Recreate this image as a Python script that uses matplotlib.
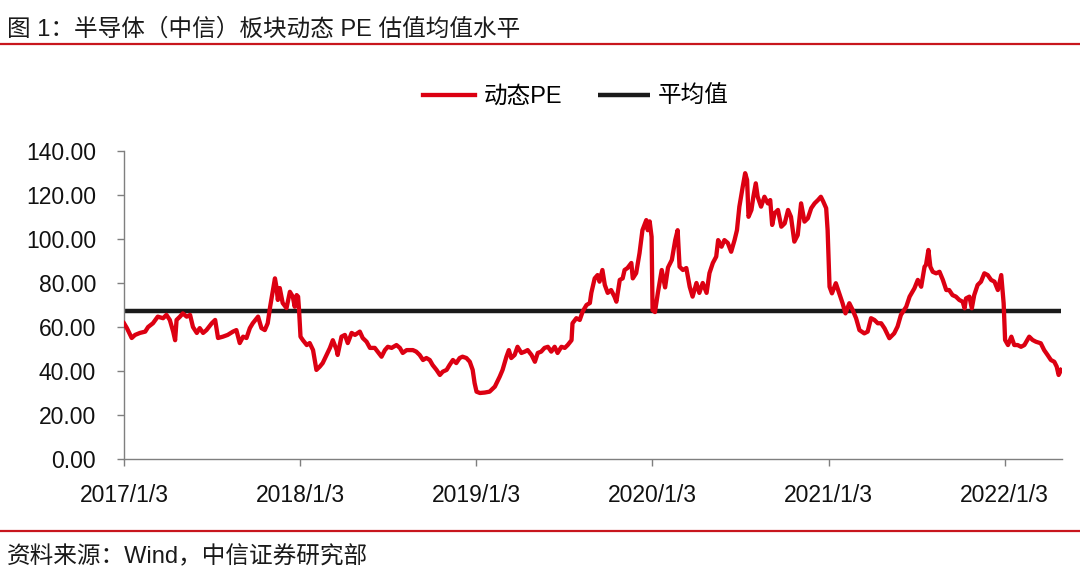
import pandas as pd
import matplotlib
matplotlib.use('Agg')
import matplotlib.pyplot as plt
from matplotlib.lines import Line2D

plt.rcParams['font.family'] = ['Liberation Sans', 'Noto Sans CJK SC']

# days since 2017/1/3 and PE
day_offsets = [
    0, 6, 16, 23, 33, 44, 50, 60, 70, 81, 88, 95, 102, 106, 109, 116, 122, 130,
    137, 143, 151, 157, 164, 171, 182, 189, 195, 205, 215, 226, 233, 240, 247,
    254, 261, 267, 278, 285, 292, 298, 303, 309, 313, 316, 319, 323, 329, 337,
    344, 350, 354, 358, 361, 363, 366, 371, 379, 385, 392, 399, 406, 412, 420,
    427, 433, 441, 443, 451, 458, 464, 472, 479, 489, 495, 503, 510, 520, 526,
    534, 541, 547, 555, 565, 572, 578, 586, 593, 599, 606, 613, 620, 627, 634,
    640, 648, 655, 661, 669, 675, 682, 689, 696, 702, 710, 717, 723, 727, 731,
    738, 748, 758, 769, 779, 785, 793, 798, 803, 810, 816, 824, 831, 837, 845,
    852, 858, 865, 872, 879, 886, 893, 899, 907, 914, 920, 928, 930, 938, 945,
    951, 959, 966, 969, 976, 982, 986, 992, 997, 1003, 1010, 1017, 1021, 1028,
    1034, 1038, 1044, 1052, 1055, 1062, 1069, 1075, 1083, 1086, 1090, 1094,
    1096, 1101, 1107, 1115, 1122, 1128, 1136, 1143, 1148, 1152, 1159, 1166,
    1173, 1179, 1187, 1193, 1200, 1208, 1214, 1221, 1228, 1232, 1239, 1245,
    1252, 1259, 1266, 1271, 1276, 1283, 1288, 1292, 1295, 1301, 1305, 1310,
    1314, 1321, 1328, 1335, 1340, 1344, 1349, 1356, 1363, 1370, 1377, 1383,
    1390, 1397, 1404, 1411, 1418, 1425, 1432, 1439, 1445, 1450, 1456, 1459,
    1463, 1468, 1476, 1483, 1490, 1496, 1504, 1511, 1518, 1525, 1535, 1542,
    1549, 1556, 1563, 1570, 1577, 1587, 1597, 1604, 1611, 1622, 1629, 1639,
    1646, 1653, 1660, 1663, 1668, 1672, 1677, 1684, 1691, 1698, 1705, 1711,
    1718, 1725, 1732, 1739, 1743, 1746, 1753, 1758, 1763, 1770, 1777, 1784,
    1791, 1798, 1805, 1812, 1819, 1824, 1827, 1833, 1840, 1846, 1853, 1860,
    1867, 1877, 1884, 1891, 1901, 1908, 1915, 1922, 1929, 1934, 1938, 1943,
]
pe_values = [
    61.7, 59.5, 55.0, 56.4, 57.3, 57.9, 60.0, 61.7, 64.7, 64.0, 65.5, 63.2, 57.9,
    54.0, 63.2, 64.7, 66.2, 64.7, 65.5, 60.0, 57.3, 59.5, 57.3, 58.6, 61.7, 63.2,
    55.0, 55.6, 56.4, 57.9, 58.6, 52.7, 55.6, 55.0, 59.5, 61.7, 64.7, 59.5, 58.6,
    61.7, 69.2, 76.8, 82.1, 78.3, 72.3, 77.7, 70.9, 68.6, 76.0, 73.8, 69.2, 74.5,
    73.8, 67.7, 55.6, 54.0, 51.8, 52.7, 49.5, 40.5, 42.0, 43.6, 47.3, 50.5, 54.0,
    49.5, 47.3, 55.6, 56.4, 52.7, 57.3, 56.4, 57.9, 55.0, 53.3, 50.5, 50.5, 48.8,
    46.5, 49.5, 51.0, 50.5, 51.8, 50.5, 48.2, 49.5, 49.5, 49.5, 48.8, 47.3, 45.0,
    45.9, 45.0, 42.7, 40.5, 38.2, 39.7, 40.5, 42.7, 45.0, 43.6, 45.9, 46.5, 45.9,
    44.2, 40.5, 34.5, 30.6, 30.0, 30.2, 30.6, 32.9, 37.4, 40.5, 46.5, 49.5, 45.9,
    47.3, 51.0, 48.2, 48.8, 49.5, 47.3, 44.2, 48.2, 48.8, 50.5, 51.0, 48.8, 51.0,
    48.2, 51.0, 50.5, 51.8, 54.0, 61.7, 64.0, 63.2, 67.0, 70.0, 70.9, 75.5, 82.1,
    83.6, 80.6, 85.9, 79.1, 75.5, 76.8, 73.8, 71.5, 81.4, 82.1, 85.9, 86.8, 89.1,
    82.1, 84.5, 93.6, 104.0, 108.6, 104.0, 108.0, 101.0, 67.7, 66.8, 75.5, 85.9,
    78.0, 87.0, 90.5, 99.5, 104.0, 87.4, 85.9, 86.8, 78.3, 73.8, 80.0, 75.5, 80.0,
    75.5, 84.5, 89.1, 92.0, 99.5, 96.5, 99.5, 98.2, 94.2, 99.5, 104.0, 114.7,
    123.8, 129.9, 126.8, 110.1, 113.2, 119.2, 125.3, 119.2, 114.7, 119.2, 116.2,
    117.7, 106.4, 111.7, 113.2, 105.6, 107.1, 113.2, 110.1, 98.8, 101.8, 116.2,
    107.9, 109.4, 114.0, 116.2, 117.7, 119.2, 117.0, 114.0, 104.0, 78.3, 75.3,
    79.9, 75.3, 70.8, 66.2, 70.8, 67.7, 64.0, 58.6, 57.1, 57.9, 64.0, 63.2, 61.7,
    61.7, 59.4, 54.9, 57.1, 60.2, 65.5, 69.2, 73.8, 77.6, 81.4, 78.3, 87.4, 88.2,
    95.0, 87.4, 85.1, 84.4, 85.1, 81.4, 76.8, 76.8, 74.5, 73.8, 72.3, 71.5, 68.5,
    73.0, 73.8, 68.5, 74.5, 79.1, 80.6, 84.4, 83.6, 81.4, 80.6, 76.8, 83.6, 70.8,
    54.1, 51.8, 55.6, 51.8, 51.8, 51.0, 51.8, 55.6, 54.1, 53.3, 52.6, 49.5, 47.3,
    45.0, 44.2, 42.0, 38.2, 40.5,
]
mean_pe = 67.3

tick_dates = ['2017-01-03', '2018-01-03', '2019-01-03', '2020-01-03', '2021-01-03', '2022-01-03']
tick_labels = ['2017/1/3', '2018/1/3', '2019/1/3', '2020/1/3', '2021/1/3', '2022/1/3']
y_ticks = [0, 20, 40, 60, 80, 100, 120, 140]

title = '图 1：半导体（中信）板块动态 PE 估值均值水平'
source = '资料来源：Wind，中信证券研究部'

dates = pd.Timestamp('2017-01-03') + pd.to_timedelta(day_offsets, unit='D')

red = '#DC0012'
fs_tick = 16.5
fs_text = 17

fig = plt.figure(figsize=(10.8, 5.83), dpi=100)
ax = fig.add_axes([124 / 1080, 1 - 459 / 583, (1062 - 124) / 1080, (459 - 151) / 583])

ax.plot(dates, pe_values, color=red, lw=3.1, label='动态PE', solid_joinstyle='round', zorder=3)
ax.hlines(mean_pe, dates[0], dates[-1], color='#1a1a1a', lw=3.2, label='平均值', zorder=2)

ax.set_xlim(dates[0], dates[-1] + pd.Timedelta(days=2))
ax.set_ylim(0, 140)
ax.set_yticks(y_ticks)
ax.set_yticklabels([f'{v:.2f}' for v in y_ticks])
ax.set_xticks(pd.to_datetime(tick_dates))
ax.set_xticklabels(tick_labels)

for s in ['top', 'right']:
    ax.spines[s].set_visible(False)
for s in ['left', 'bottom']:
    ax.spines[s].set_color('#7f7f7f')
    ax.spines[s].set_linewidth(1.0)
ax.tick_params(axis='y', length=5, width=1.0, color='#7f7f7f', pad=15, labelsize=fs_tick, labelcolor='#111111')
ax.tick_params(axis='x', length=5, width=1.0, color='#7f7f7f', pad=13, labelsize=fs_tick, labelcolor='#111111')

fig.legend(loc='center', bbox_to_anchor=(576 / 1080, 1 - 97 / 583), ncol=2, frameon=False,
           fontsize=fs_text, handlelength=2.2, handletextpad=0.35, columnspacing=1.5)

fig.text(7 / 1080, 1 - 30 / 583, title, fontsize=fs_text, va='center', ha='left', color='#1a1a1a')
fig.add_artist(Line2D([0, 1], [1 - 43.5 / 583] * 2, transform=fig.transFigure, color='#C8161D', lw=1.6))
fig.add_artist(Line2D([0, 1], [1 - 531 / 583] * 2, transform=fig.transFigure, color='#C8161D', lw=1.6))
fig.text(7 / 1080, 1 - 557 / 583, source, fontsize=fs_text, va='center', ha='left', color='#1a1a1a')

fig.savefig('out.png', dpi=100)
